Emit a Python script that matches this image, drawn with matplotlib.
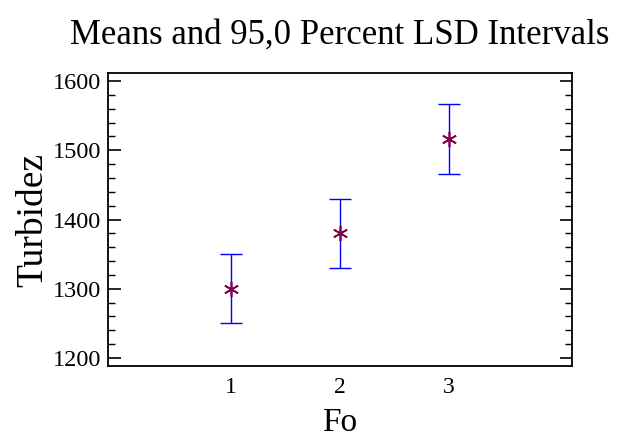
import matplotlib
matplotlib.use("Agg")
import matplotlib.pyplot as plt
from matplotlib.ticker import MultipleLocator

# group means and LSD half-widths
levels = [1, 2, 3]
means = [1300, 1380, 1516]
half_lsd = [50, 50, 51]

plt.rcParams['font.family'] = ['Liberation Serif', 'DejaVu Serif']

fig = plt.figure(figsize=(6.18, 4.43), dpi=100)
ax = fig.add_axes([108 / 618, 1 - 366 / 443, 464 / 618, 293 / 443])

ax.errorbar(levels, means, yerr=half_lsd, fmt='none', ecolor='#0000ff',
            elinewidth=1.0, capsize=8, capthick=1.0)
ax.plot(levels, means, linestyle='none', marker=(6, 2, 0), markersize=11,
        markeredgecolor='#80004a', markeredgewidth=1.2)

ax.set_xlim(-0.13, 4.13)
ax.set_ylim(1188.5, 1611.5)
ax.set_xticks(levels)
ax.yaxis.set_major_locator(MultipleLocator(100))
ax.yaxis.set_minor_locator(MultipleLocator(20))
ax.tick_params(axis='x', length=0, labelsize=17, pad=8)
ax.tick_params(axis='y', which='major', direction='in', length=9, width=1.2,
               right=True, labelsize=17.5, pad=5)
ax.tick_params(axis='y', which='minor', direction='in', length=5, width=1.0,
               right=True)
for s in ax.spines.values():
    s.set_linewidth(1.3)

ax.set_title('Means and 95,0 Percent LSD Intervals', fontsize=25, pad=21)
ax.set_xlabel('Fo', fontsize=24, labelpad=7)
ax.set_ylabel('Turbidez', fontsize=27, labelpad=2)

fig.savefig('out.png', dpi=100)
